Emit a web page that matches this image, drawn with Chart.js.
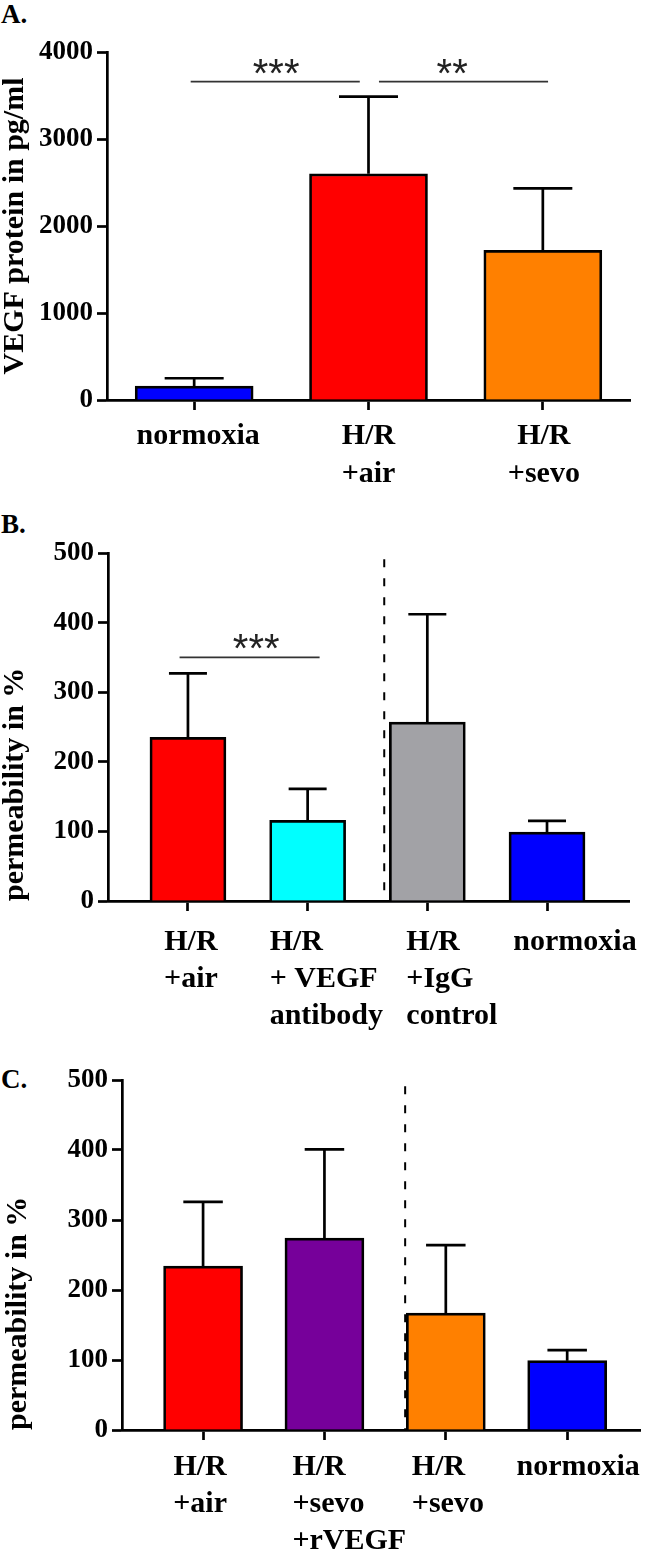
<!DOCTYPE html>
<html>
<head>
<meta charset="utf-8">
<script src="https://cdn.jsdelivr.net/npm/chart.js@4.4.1/dist/chart.umd.min.js"></script>
<style>
  body { margin: 0; background: #fff; width: 650px; height: 1555px; position: relative; overflow: hidden; }
  canvas { position: absolute; left: 0; }
  .tag { position: absolute; left: 1px; font: bold 27px "Liberation Serif", serif; line-height: 27px; }
</style>
</head>
<body>
<div class="tag" style="top:1px">A.</div>
<div class="tag" style="top:511px">B.</div>
<div class="tag" style="top:1066px">C.</div>
<canvas id="chartA" width="650" height="530" style="top:0"></canvas>
<canvas id="chartB" width="650" height="510" style="top:530px"></canvas>
<canvas id="chartC" width="650" height="515" style="top:1040px"></canvas>
<script>
// Panel A - VEGF protein (mean and SD)
const catsA = [["normoxia"], ["H/R", "+air"], ["H/R", "+sevo"]];
const meanA = [160, 2600, 1720];
const sdA = [90, 887, 712];
const yTicksA = [0, 1000, 2000, 3000, 4000];
const sigA = [
  { from: -0.02, to: 0.95, y: 3660, at: 0.47, text: "***" },
  { from: 1.06, to: 2.03, y: 3660, at: 1.48, text: "**" }
];

// Panel B - permeability with VEGF antibody
const catsB = [["H/R", "+air"], ["H/R", "+ VEGF", "antibody"], ["H/R", "+IgG", "control"], ["normoxia"]];
const meanB = [235, 116, 257, 99];
const sdB = [92, 45, 155, 16];
const yTicksB = [0, 100, 200, 300, 400, 500];
const sigB = [{ from: -0.07, to: 1.1, y: 350, at: 0.57, text: "***" }];
const splitB = { x: 1.64, top: 491 };

// Panel C - permeability with rVEGF
const catsC = [["H/R", "+air"], ["H/R", "+sevo", "+rVEGF"], ["H/R", "+sevo"], ["normoxia"]];
const meanC = [234, 274, 167, 99];
const sdC = [92, 127, 97, 15];
const yTicksC = [0, 100, 200, 300, 400, 500];
const splitC = { x: 1.665, top: 491 };

const colorsA = ["#0000ff", "#ff0000", "#ff8000"];
const colorsB = ["#ff0000", "#00ffff", "#a2a2a6", "#0000ff"];
const colorsC = ["#ff0000", "#76009a", "#ff8000", "#0000ff"];

Chart.defaults.font.family = '"Liberation Serif", serif';
Chart.defaults.color = "#000";

// error bars, significance lines, dashed separator and the category labels
function extras(o) {
  return {
    id: "extras",
    beforeDatasetsDraw(chart) {
      if (!o.split) return;
      const { ctx, scales: { x, y } } = chart;
      const px = x.getPixelForValue(o.split.x);
      ctx.save();
      ctx.strokeStyle = "#000";
      ctx.lineWidth = 2;
      ctx.setLineDash([8, 11]);
      ctx.beginPath();
      ctx.moveTo(px, y.getPixelForValue(o.split.top));
      ctx.lineTo(px, y.getPixelForValue(0));
      ctx.stroke();
      ctx.restore();
    },
    afterDatasetsDraw(chart) {
      const { ctx, scales: { x, y } } = chart;
      const bars = chart.getDatasetMeta(0).data;
      ctx.save();
      ctx.strokeStyle = "#000";
      ctx.lineWidth = 2.7;
      bars.forEach((bar, i) => {
        const top = y.getPixelForValue(o.mean[i] + o.sd[i]);
        const cap = bar.width / 4;
        ctx.beginPath();
        ctx.moveTo(bar.x, bar.y);
        ctx.lineTo(bar.x, top);
        ctx.moveTo(bar.x - cap, top);
        ctx.lineTo(bar.x + cap, top);
        ctx.stroke();
      });
      ctx.strokeStyle = "#333";
      ctx.fillStyle = "#222";
      ctx.lineWidth = 1.7;
      ctx.font = '40px "Liberation Sans", sans-serif';
      ctx.textAlign = "center";
      (o.sig || []).forEach((s) => {
        const py = y.getPixelForValue(s.y);
        ctx.beginPath();
        ctx.moveTo(x.getPixelForValue(s.from), py);
        ctx.lineTo(x.getPixelForValue(s.to), py);
        ctx.stroke();
        ctx.fillText(s.text, x.getPixelForValue(s.at), py + 5);
      });
      ctx.restore();
    },
    afterDraw(chart) {
      const { ctx, chartArea, scales: { x } } = chart;
      ctx.save();
      ctx.font = 'bold 30px "Liberation Serif", serif';
      ctx.fillStyle = "#000";
      ctx.textBaseline = "middle";
      o.cats.forEach((lines, i) => {
        const px = x.getPixelForValue(i) + o.lab.dx[i];
        ctx.textAlign = o.lab.align[i];
        lines.forEach((t, k) => ctx.fillText(t, px, chartArea.bottom + o.lab.top + k * o.lab.gap));
      });
      ctx.restore();
    }
  };
}

function panel(id, o) {
  const axisLine = { color: "#000", width: 2.7 };
  const tickGrid = { drawOnChartArea: false, offset: false, color: "#000", tickColor: "#000", tickLength: 10, tickWidth: 2.7 };
  new Chart(document.getElementById(id), {
    type: "bar",
    data: {
      datasets: [{
        data: o.mean.map((v, i) => ({ x: i, y: v })),
        backgroundColor: o.colors,
        borderColor: "#000",
        borderWidth: 2.7,
        barThickness: o.barWidth
      }]
    },
    options: {
      responsive: false,
      animation: false,
      layout: { padding: { top: o.padTop, right: o.padRight, bottom: 0, left: 0 } },
      plugins: { legend: { display: false }, tooltip: { enabled: false } },
      scales: {
        x: {
          type: "linear",
          offset: false,
          min: o.xRange[0],
          max: o.xRange[1],
          afterBuildTicks: (s) => { s.ticks = o.cats.map((c, i) => ({ value: i })); },
          ticks: { display: false },
          grid: tickGrid,
          border: axisLine,
          afterFit: (s) => { s.height = o.xHeight; }
        },
        y: {
          min: o.yTicks[0],
          max: o.yTicks[o.yTicks.length - 1],
          afterBuildTicks: (s) => { s.ticks = o.yTicks.map((v) => ({ value: v })); },
          ticks: { font: { size: 27, weight: "bold" }, padding: 4, callback: (v) => String(v) },
          grid: tickGrid,
          border: axisLine,
          title: {
            display: true,
            text: o.title,
            align: o.titleAlign,
            font: { size: 30, weight: "bold", lineHeight: 1 },
            padding: { top: o.titlePad, bottom: 0 }
          },
          afterFit: (s) => { s.width = o.yWidth; }
        }
      }
    },
    plugins: [extras(o)]
  });
}

panel("chartA", {
  cats: catsA, mean: meanA, sd: sdA, yTicks: yTicksA, sig: sigA, colors: colorsA,
  title: "VEGF protein in pg/ml", titleAlign: "center", titlePad: 0,
  barWidth: 118, xRange: [-0.5, 2.5], padTop: 52, padRight: 20, yWidth: 107, xHeight: 130,
  lab: { top: 36, gap: 38, align: ["center", "center", "center"], dx: [4, 0, 1] }
});

panel("chartB", {
  cats: catsB, mean: meanB, sd: sdB, yTicks: yTicksB, sig: sigB, split: splitB, colors: colorsB,
  title: "permeability in %", titleAlign: "start", titlePad: 0,
  barWidth: 76, xRange: [-0.668, 3.685], padTop: 23, padRight: 21, yWidth: 108, xHeight: 139,
  lab: { top: 41, gap: 37, align: ["center", "left", "left", "center"], dx: [3, -38, -21, 28] }
});

panel("chartC", {
  cats: catsC, mean: meanC, sd: sdC, yTicks: yTicksC, split: splitC, colors: colorsC,
  title: "permeability in %", titleAlign: "start", titlePad: 3,
  barWidth: 79, xRange: [-0.668, 3.6], padTop: 40, padRight: 10, yWidth: 122, xHeight: 125,
  lab: { top: 37, gap: 37, align: ["center", "left", "left", "center"], dx: [-3, -32, -34, 11] }
});
</script>
</body>
</html>
